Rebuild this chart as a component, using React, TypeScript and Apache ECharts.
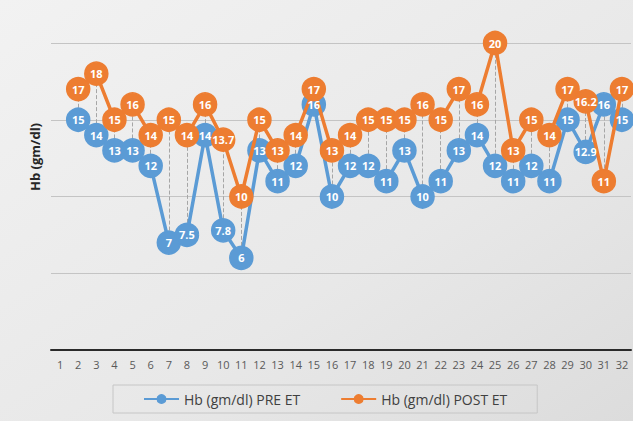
import React, { useEffect, useRef } from "react";
import * as echarts from "echarts";

const categories = Array.from({ length: 32 }, (_, i) => String(i + 1));
const preET: (number | null)[] = [
  null, 15, 14, 13, 13, 12, 7, 7.5, 14, 7.8, 6, 13, 11, 12, 16, 10,
  12, 12, 11, 13, 10, 11, 13, 14, 12, 11, 12, 11, 15, 12.9, 16, 15,
];
const postET: (number | null)[] = [
  null, 17, 18, 15, 16, 14, 15, 14, 16, 13.7, 10, 15, 13, 14, 17, 13,
  14, 15, 15, 15, 16, 15, 17, 16, 20, 13, 15, 14, 17, 16.2, 11, 17,
];
const yTicks = { min: 0, max: 20, interval: 5 };
const seriesNames = ["Hb (gm/dl) PRE ET", "Hb (gm/dl) POST ET"];
const yTitle = "Hb (gm/dl)";

export default function App() {
  const ref = useRef<HTMLDivElement>(null);
  useEffect(() => {
    document.body.style.margin = "0";
    if (!ref.current) return;
    const chart = echarts.init(ref.current, undefined, { renderer: "svg" });
    const dropLines = categories
      .map((c, i) =>
        preET[i] != null && postET[i] != null
          ? [{ coord: [c, preET[i]] }, { coord: [c, postET[i]] }]
          : null
      )
      .filter(Boolean);
    const labelStyle = {
      show: true,
      position: "inside",
      color: "#ffffff",
      fontSize: 11,
      fontWeight: "bold",
      fontFamily: "Open Sans",
    };
    const mkSeries = (name: string, data: (number | null)[], color: string, z: number, extra: any = {}) => ({
      name,
      type: "line",
      data,
      z,
      symbol: "circle",
      symbolSize: 23,
      lineStyle: { color, width: 3.5 },
      itemStyle: { color, borderColor: color, borderWidth: 1.5 },
      label: { show: false },
      ...extra,
    });
    // label-only overlay series so that all labels sit above all markers
    const mkLabels = (name: string, data: (number | null)[]) => ({
      name,
      type: "line",
      data,
      z: 10,
      symbol: "circle",
      symbolSize: 2,
      lineStyle: { width: 0, color: "rgba(0,0,0,0)" },
      itemStyle: { color: "rgba(0,0,0,0)", borderWidth: 0 },
      label: labelStyle,
      silent: true,
      legendHoverLink: false,
    });
    chart.setOption({
      animation: false,
      backgroundColor: new echarts.graphic.LinearGradient(0, 0, 1, 1, [
        { offset: 0, color: "#f2f2f2" },
        { offset: 0.6, color: "#e8e8e8" },
        { offset: 1, color: "#dcdcdc" },
      ]),
      grid: { left: 51, right: 2, top: 43, bottom: 71, containLabel: false },
      xAxis: {
        type: "category",
        data: categories,
        boundaryGap: true,
        axisTick: { show: false },
        axisLine: { lineStyle: { color: "#2a2a2a", width: 2 } },
        axisLabel: { color: "#595959", fontSize: 11, margin: 9, fontFamily: "Open Sans" },
      },
      yAxis: {
        type: "value",
        min: yTicks.min,
        max: yTicks.max,
        interval: yTicks.interval,
        axisLabel: { show: false },
        axisLine: { show: false },
        axisTick: { show: false },
        splitLine: { lineStyle: { color: "#c4c4c4", width: 1 } },
      },
      legend: {
        data: seriesNames,
        left: 113,
        top: 385,
        itemWidth: 35,
        itemHeight: 10,
        itemGap: 40,
        padding: [7, 30],
        borderColor: "#c6c6c6",
        borderWidth: 1,
        textStyle: { color: "#404040", fontSize: 14, fontFamily: "Open Sans" },
      },
      graphic: [
        {
          type: "text",
          x: 35,
          y: 157,
          rotation: Math.PI / 2,
          style: {
            text: yTitle,
            fill: "#262626",
            font: "bold 13px 'Open Sans'",
            textAlign: "center",
            textVerticalAlign: "middle",
          },
        },
      ],
      series: [
        mkSeries(seriesNames[0], preET, "#5b9bd5", 3, {
          markLine: {
            silent: true,
            symbol: "none",
            label: { show: false },
            lineStyle: { color: "#a6a6a6", type: "dashed", width: 1 },
            data: dropLines,
            z: 1,
          },
        }),
        mkSeries(seriesNames[1], postET, "#ed7d31", 4),
        mkLabels("preLabels", preET),
        mkLabels("postLabels", postET),
      ],
    });
    return () => chart.dispose();
  }, []);
  return <div ref={ref} style={{ width: 633, height: 421 }} />;
}
